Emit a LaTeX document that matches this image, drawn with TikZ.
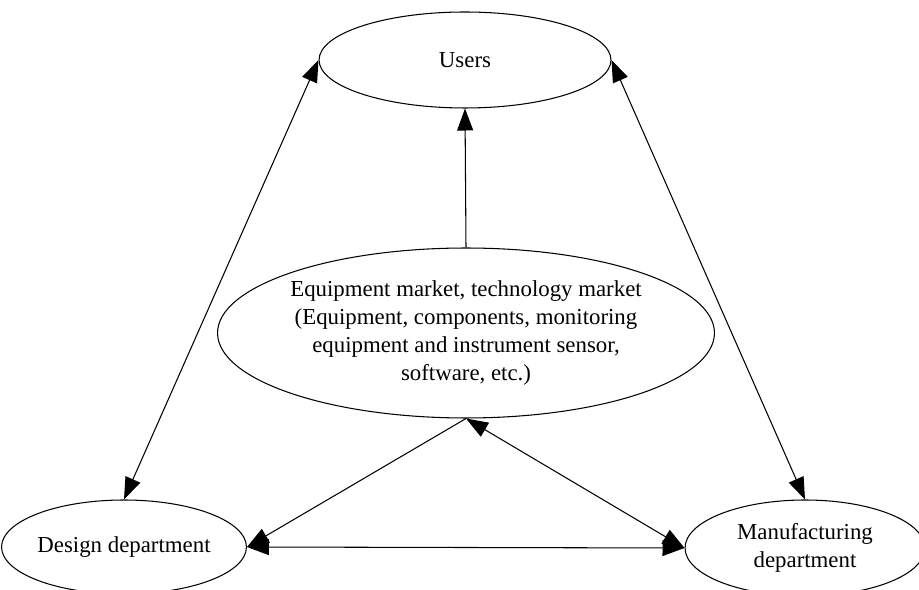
\documentclass[tikz,border=0pt]{standalone}
\usepackage{fontspec}
\setmainfont{Liberation Serif}
\usetikzlibrary{shapes.geometric}
\usetikzlibrary{arrows.meta}

\begin{document}
\begin{tikzpicture}[x=0.02cm, y=-0.02cm,
    blob/.style={draw, ellipse, line width=0.6pt, inner sep=0pt, align=center,
      font=\fontsize{13}{16}\selectfont},
    link/.style={line width=0.6pt, -{Triangle[length=0.44cm, width=0.32cm]}},
    twolink/.style={line width=0.6pt,
      {Triangle[length=0.44cm, width=0.32cm]}-{Triangle[length=0.44cm, width=0.32cm]}}]
    %%%FRAME%%%
    \useasboundingbox (0,0) rectangle (919,590);
    \clip (0,0) rectangle (919,590);
    %ellipses
    \node[blob, minimum width=5.84cm, minimum height=1.92cm] (users) at (465,60) {Users};
    \node[blob, minimum width=9.44cm, minimum height=3.4cm] (market) at (466,333)
      {Equipment market, technology market\\(Equipment, components, monitoring\\equipment and instrument sensor,\\software, etc.)};
    \node[blob, minimum width=4.56cm, minimum height=1.88cm] (design) at (124,547) {Design department};
    \node[blob, minimum width=4.8cm, minimum height=1.92cm] (manuf) at (805,548) {Manufacturing\\department};
    %market to users
    \draw[link] (market.north)--(users.south);
    %users to departments
    \draw[twolink] (users.west)--(design.north);
    \draw[twolink] (users.east)--(manuf.north);
    %market to departments
    \draw[link] (market.south)--(design.east);
    \draw[twolink] (market.south)--(manuf.west);
    %between departments
    \draw[twolink] (design.east)--(manuf.west);
\end{tikzpicture}
\end{document}
